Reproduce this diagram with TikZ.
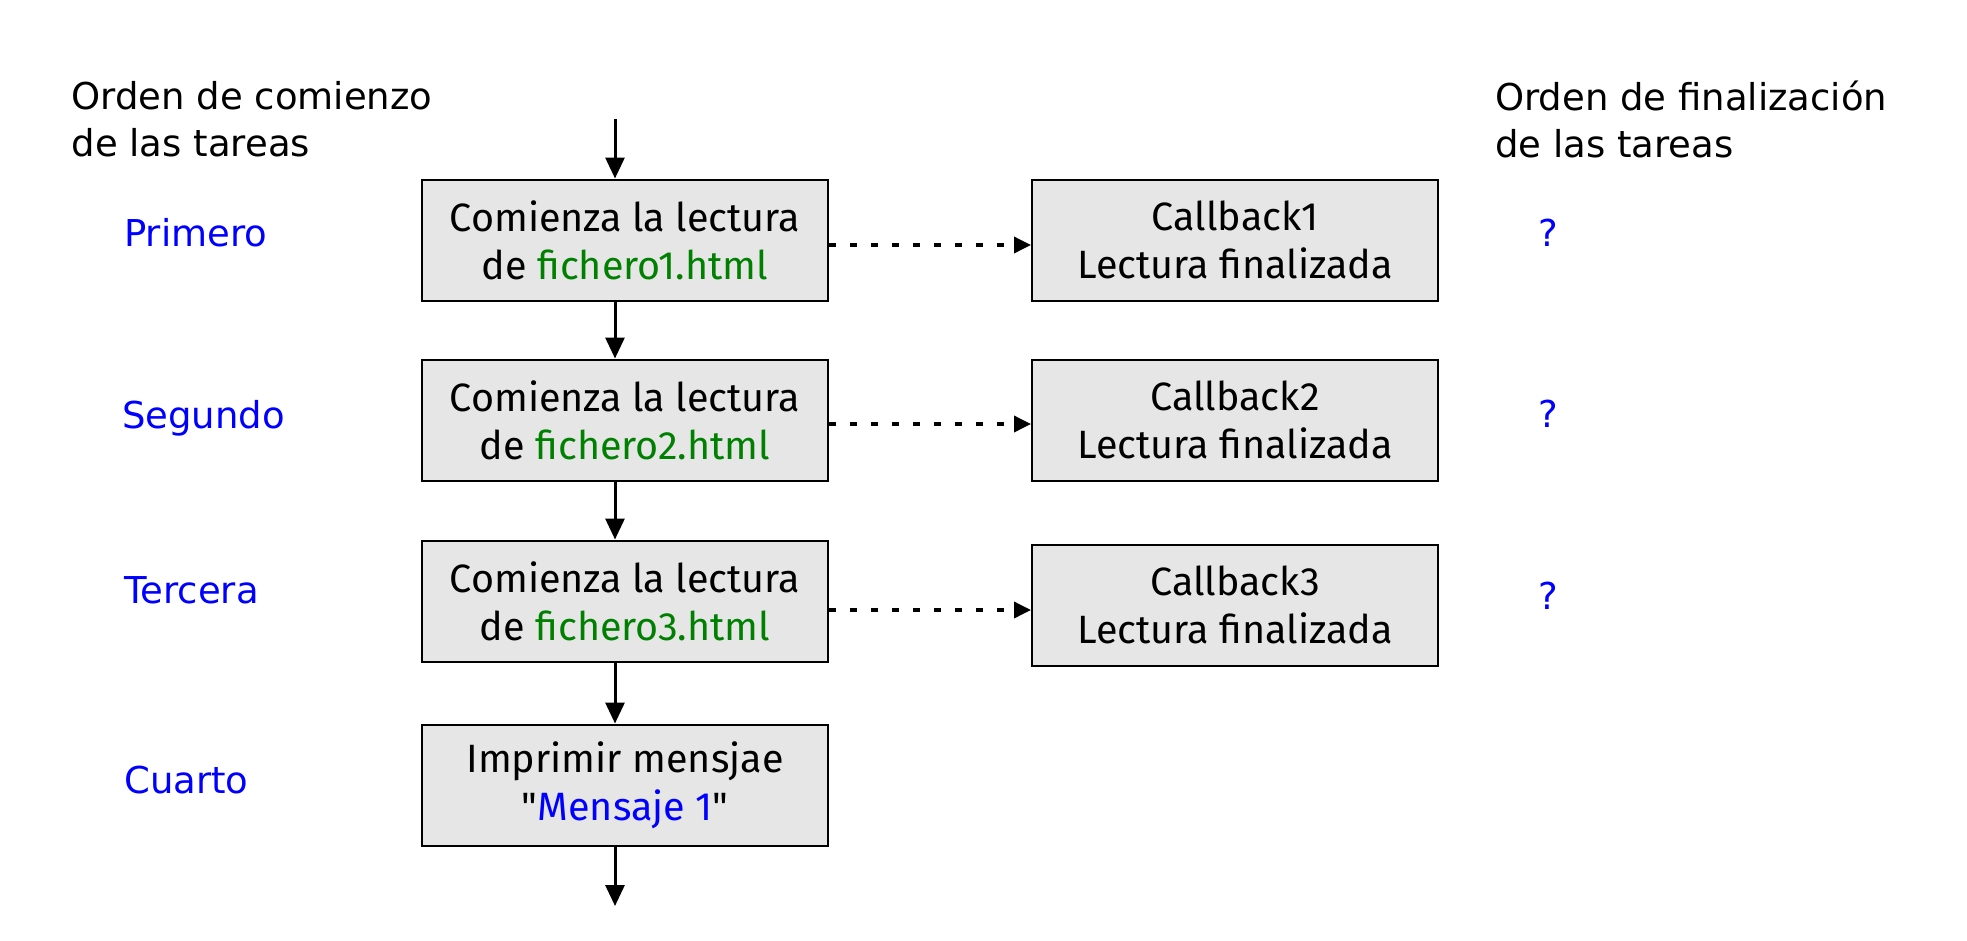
\documentclass[tikz,border=0pt]{standalone}
\usepackage{fontspec}
\newfontfamily\boxfont{Fira Sans}
\newfontfamily\dejavu{DejaVu Sans}
\usetikzlibrary{arrows.meta}
\definecolor{boxgray}{HTML}{E6E6E6}
\definecolor{fgreen}{HTML}{008000}
\definecolor{fblue}{HTML}{0000FF}
\begin{document}
\begin{tikzpicture}[x=1pt,y=-1pt,
 task/.style={draw=black, line width=2pt, fill=boxgray, minimum width=406pt, minimum height=121pt, align=center, font=\boxfont\fontsize{39.5}{48}\selectfont, inner sep=0pt},
 lbl/.style={font=\dejavu\fontsize{37}{47}\selectfont, text=fblue, inner sep=0pt, anchor=west},
 qm/.style={font=\dejavu\fontsize{37}{47}\selectfont, text=fblue, inner sep=0pt},
 hdr/.style={font=\dejavu\fontsize{37}{47}\selectfont, align=left, anchor=west, inner sep=0pt},
 flow/.style={line width=3pt, -{Triangle[length=21pt,width=19pt]}},
 async/.style={line width=3.5pt, dash pattern=on 7pt off 14pt, -{Triangle[length=17pt,width=16pt]}}]
\useasboundingbox (0,0) rectangle (1967,940);

\node[hdr] (h1) at (71.5,119) {Orden de comienzo\\de las tareas};
\node[hdr] (h2) at (1495,119) {Orden de finalización\\de las tareas};

\node[task] (t1) at (625,240) {Comienza la lectura\\de \textcolor{fgreen}{fichero1.html}};
\node[task] (t2) at (625,420) {Comienza la lectura\\de \textcolor{fgreen}{fichero2.html}};
\node[task] (t3) at (625,601) {Comienza la lectura\\de \textcolor{fgreen}{fichero3.html}};
\node[task] (t4) at (625,785) {Imprimir mensjae\\"\textcolor{fblue}{Mensaje 1}"};

\node[task] (c1) at (1235,240) {Callback1\\Lectura finalizada};
\node[task] (c2) at (1235,420) {Callback2\\Lectura finalizada};
\node[task] (c3) at (1235,605) {Callback3\\Lectura finalizada};

\node[lbl] (l1) at (124,233) {Primero};
\node[lbl] (l2) at (122,418) {Segundo};
\node[lbl] (l3) at (124,590) {Tercera};
\node[lbl] (l4) at (124,780) {Cuarto};

\node[qm] (q1) at (1548,233) {?};
\node[qm] (q2) at (1548,414) {?};
\node[qm] (q3) at (1548,596) {?};

\coordinate (start) at (615,119);
\coordinate (end) at (615,906);

\draw[flow] (start) -- (start |- t1.north);
\draw[flow] ([xshift=-10pt]t1.south) -- ([xshift=-10pt]t2.north);
\draw[flow] ([xshift=-10pt]t2.south) -- ([xshift=-10pt]t3.north);
\draw[flow] ([xshift=-10pt]t3.south) -- ([xshift=-10pt]t4.north);
\draw[flow] ([xshift=-10pt]t4.south) -- (end);

\draw[async] ([yshift=-5pt]t1.east) -- ([yshift=-5pt]t1.east -| c1.west);
\draw[async] ([yshift=-4pt]t2.east) -- ([yshift=-4pt]t2.east -| c2.west);
\draw[async] ([yshift=-9pt]t3.east) -- ([yshift=-9pt]t3.east -| c3.west);
\end{tikzpicture}
\end{document}
